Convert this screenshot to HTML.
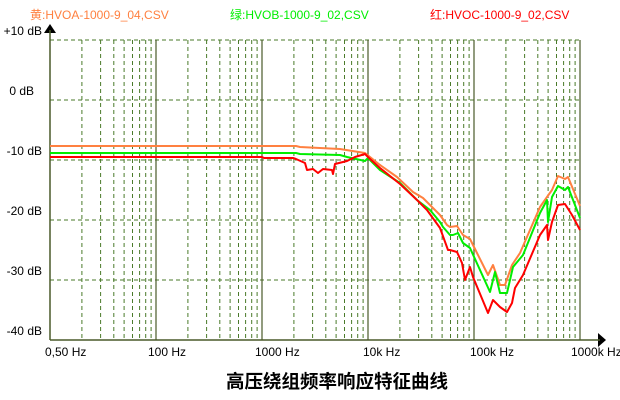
<!DOCTYPE html>
<html><head><meta charset="utf-8"><style>
body{margin:0;background:#fff;width:620px;height:400px;overflow:hidden}
svg{display:block}
text{font-family:"Liberation Sans","Noto Sans CJK SC",sans-serif;font-size:12px}
</style></head><body>
<svg width="620" height="400" viewBox="0 0 620 400">
<g id="grid"></g>
<text x="30" y="19" fill="#ff8040">黄:HVOA-1000-9_04,CSV</text>
<text x="230" y="19" fill="#00ee00">绿:HVOB-1000-9_02,CSV</text>
<text x="430" y="19" fill="#ff0000">红:HVOC-1000-9_02,CSV</text>
<g fill="#000" text-anchor="end">
<text x="42" y="35">+10 dB</text>
<text x="34" y="95">0 dB</text>
<text x="42" y="155">-10 dB</text>
<text x="42" y="215">-20 dB</text>
<text x="42" y="275">-30 dB</text>
<text x="42" y="335">-40 dB</text>
</g>
<g fill="#000">
<text x="45" y="356">0,50 Hz</text>
<text x="148" y="356">100 Hz</text>
<text x="255" y="356">1000 Hz</text>
<text x="363" y="356">10k Hz</text>
<text x="470" y="356">100k Hz</text>
<text x="571" y="356">1000k Hz</text>
</g>
<text x="337" y="388" text-anchor="middle" style="font-size:18.5px;font-weight:bold">高压绕组频率响应特征曲线</text>
<polygon points="50,24 44,33 56,33" fill="#000"/>
<polygon points="606,340 598,333 598,347" fill="#000"/>
<line x1="50" y1="30" x2="50" y2="340" stroke="#4a5a2a" stroke-width="1.5"/>
<line x1="50" y1="340" x2="600" y2="340" stroke="#4a5a2a" stroke-width="1.5"/>
<g fill="none" stroke-width="2" stroke-linejoin="round">
<polyline stroke="#ff8040" points="50,146 296,146 300,147 340,149 365,153 380,165 397,177 413,192 423,198 433,208 440,215 447,225 450,227 457,226 463,235 470,239 477,253 488,275 493,265 500,285 505,285 512,265 520,253 540,207 547,197 552,190 558,176 565,179 568,177 580,206"/>
<polyline stroke="#00ee00" points="50,153 296,153 300,154 340,155 347,157 365,161 368,158 380,170 400,183 417,200 430,210 440,222 443,227 450,235 453,235 458,233 463,243 470,248 490,292 495,272 500,293 507,293 513,267 523,255 540,213 547,200 548,222 552,197 558,186 565,190 568,187 580,218"/>
<polyline stroke="#ff0000" points="50,157 262,157 264,158 293,158 296,159 305,163 307,170 313,169 318,173 323,169 332,170 333,174 335,164 347,161 355,157 365,154 369,158 380,168 400,184 417,200 427,210 440,228 448,250 450,250 457,252 462,263 465,280 470,267 473,277 488,313 493,300 500,307 507,312 512,303 515,288 523,275 540,235 547,225 548,240 552,222 558,205 565,204 572,215 580,230"/>
</g>
</svg>
<script>
var g=document.getElementById('grid'),s='';
for(var y=40;y<340;y+=60)s+='<line x1="50" y1="'+y+'" x2="580" y2="'+y+'" stroke="#4a7a2a" stroke-dasharray="4,3"/>';
for(var d=0;d<5;d++){var x0=50+d*106;
 for(var k=2;k<10;k++){var x=(x0+Math.log10(k)*106).toFixed(1);
 s+='<line x1="'+x+'" y1="40" x2="'+x+'" y2="340" stroke="#4a7a2a" stroke-dasharray="4,3"/>';}
 if(d>0)s+='<line x1="'+x0+'" y1="40" x2="'+x0+'" y2="340" stroke="#4a5a2a" stroke-width="1.2"/>';}
s+='<line x1="580" y1="40" x2="580" y2="340" stroke="#4a5a2a" stroke-width="1.2"/>';
g.innerHTML=s;
</script>
</body></html>
